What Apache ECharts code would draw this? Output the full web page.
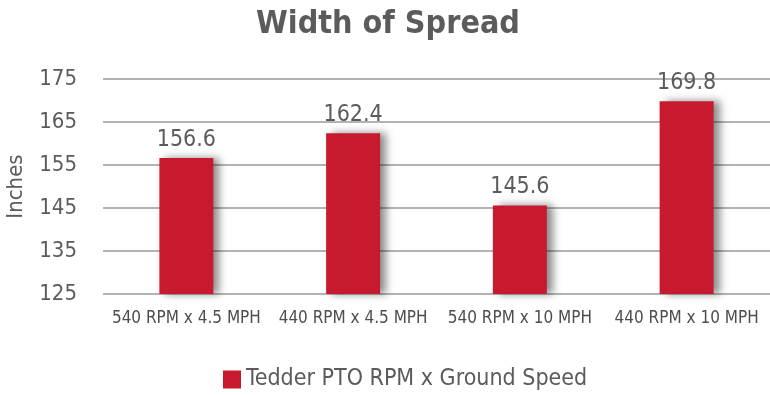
<!DOCTYPE html>
<html><head><meta charset="utf-8">
<script src="https://cdn.jsdelivr.net/npm/echarts@6/dist/echarts.min.js"></script>
<style>html,body{margin:0;padding:0;background:#fff}#c{width:770px;height:395px}</style>
</head><body><div id="c"></div>
<script>
const categories = ["540 RPM x 4.5 MPH", "440 RPM x 4.5 MPH", "540 RPM x 10 MPH", "440 RPM x 10 MPH"];
const values = [156.6, 162.4, 145.6, 169.8];
const seriesName = "Tedder PTO RPM x Ground Speed";
const yTicks = [125, 135, 145, 155, 165, 175];
const FONT = "'Liberation Sans Narrow', 'DejaVu Sans Condensed', sans-serif";
const chart = echarts.init(document.getElementById('c'));
chart.setOption({
  animation: false,
  textStyle: { fontFamily: FONT },
  title: { text: "Width of Spread", left: 383, textAlign: 'center', top: 4,
    textStyle: { fontFamily: FONT, fontSize: 32, fontWeight: 'bold', color: '#5b5b5b' } },
  legend: { data: [seriesName], top: 363, left: 218, itemWidth: 18, itemHeight: 18, itemGap: 10,
    icon: 'rect', textStyle: { fontFamily: FONT, fontSize: 23, color: '#5b5b5b' } },
  grid: { left: 103, right: 0, top: 79, bottom: 101, outerBoundsMode: 'none', containLabel: false },
  xAxis: { type: 'category', data: categories,
    axisLine: { show: false }, axisTick: { show: false },
    axisLabel: { fontFamily: FONT, fontSize: 17, color: '#4d4d4d', margin: 16, interval: 0 } },
  yAxis: { type: 'value', min: yTicks[0], max: yTicks[yTicks.length - 1], interval: 10,
    name: 'Inches', nameLocation: 'middle', nameGap: 76, nameRotate: 90,
    nameTextStyle: { fontFamily: FONT, fontSize: 22, color: '#5b5b5b' },
    axisLabel: { fontFamily: FONT, fontSize: 22, color: '#5b5b5b', margin: 26 },
    splitLine: { lineStyle: { color: '#9a9a9a', width: 1.5 } } },
  series: [{ name: seriesName, type: 'bar', data: values, barWidth: 54,
    itemStyle: { color: '#c81a2e', shadowColor: 'rgba(0,0,0,0.45)', shadowBlur: 8, shadowOffsetX: 6, shadowOffsetY: 0 },
    label: { show: true, position: 'top', distance: 7, fontFamily: FONT, fontSize: 23, color: '#5b5b5b',
      formatter: p => p.value.toFixed(1) } }]
});
</script></body></html>
